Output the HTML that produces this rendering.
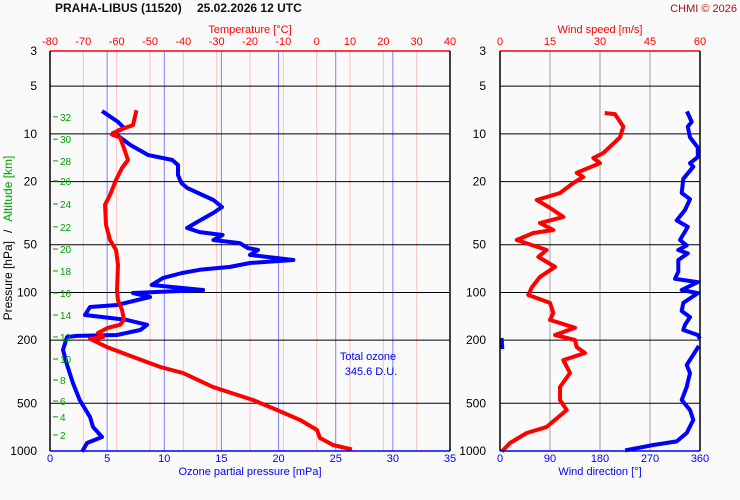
<!DOCTYPE html>
<html><head><meta charset="utf-8">
<style>
html,body{margin:0;padding:0;background:#fafafa;}
svg{display:block;font-family:"Liberation Sans",sans-serif;}
</style></head>
<body>
<svg id="chart" width="740" height="500" viewBox="0 0 740 500" xmlns="http://www.w3.org/2000/svg">
<rect x="0" y="0" width="740" height="500" fill="#fafafa"/>
<text x="55" y="12" font-size="12" font-weight="bold" fill="#111">PRAHA-LIBUS (11520)</text>
<text x="197" y="12" font-size="12" font-weight="bold" fill="#111">25.02.2026 12 UTC</text>
<text x="737" y="12" font-size="11" fill="#b01010" text-anchor="end">CHMI © 2026</text>
<g id="grid"></g>
<g id="series"></g>
<g id="axes"></g>
</svg>
<script>
// ---- data ----
const pressureTicks = [3, 5, 10, 20, 50, 100, 200, 500, 1000];
const tempTicks = [-80, -70, -60, -50, -40, -30, -20, -10, 0, 10, 20, 30, 40];
const ozoneTicks = [0, 5, 10, 15, 20, 25, 30, 35];
const speedTicks = [0, 15, 30, 45, 60];
const dirTicks = [0, 90, 180, 270, 360];
const altLabels = [32, 30, 28, 26, 24, 22, 20, 18, 16, 14, 12, 10, 8, 6, 4, 2];
const altPressure = [7.8, 10.8, 14.8, 19.8, 27.7, 38.6, 53.2, 73.2, 100.8, 138.7, 191, 263, 357, 484, 609, 792];

const tempP = [7.3, 8.8, 9.5, 10.1, 10.5, 12.3, 14.6, 16.4, 19.5, 24.3, 28, 37.5, 46.7, 54, 67, 96.5, 112, 129, 149, 160, 167, 180, 191, 196, 221, 255, 295, 322, 395, 477, 551, 637, 737, 828, 916, 971];
const tempV = [-54.2, -55.1, -59.6, -61.4, -59, -57.8, -56.6, -58.4, -60.2, -62, -63.5, -63.2, -62, -60.2, -59.6, -59.9, -59.6, -58.4, -57.8, -59, -62.6, -65.6, -64, -68, -62.9, -55.1, -47, -40.1, -31.1, -19.1, -11.9, -5, 0.1, 1, 4.9, 10];

const ozoneP = [7.3, 8.4, 9.2, 9.9, 10.2, 11.7, 13.6, 14.6, 15.7, 18.2, 20.4, 21.9, 26.1, 28.9, 31.5, 35.9, 39.2, 41.6, 43.4, 46.7, 48.8, 52.4, 54, 58, 62.4, 65.2, 69, 72, 75.4, 81, 89.8, 96.5, 100.8, 106.9, 120, 123.6, 138.7, 149, 160, 172.6, 185.5, 188, 191, 230, 287, 372, 477, 609, 705, 816, 890, 985];
const ozoneV = [4.7, 5.95, 6.5, 5.5, 5.9, 7.0, 8.6, 10.7, 11.2, 11.2, 11.5, 12.0, 14.3, 15.05, 14.3, 12.9, 12.0, 13.1, 15.1, 14.3, 16.6, 17.3, 18.2, 17.5, 21.3, 17.5, 15.75, 13.1, 11.55, 9.9, 8.9, 13.4, 7.26, 8.75, 5.86, 3.5, 3.06, 6.7, 8.5, 7.9, 5.86, 2.36, 1.49, 1.14, 1.5, 2.0, 2.6, 3.5, 3.76, 4.55, 3.24, 2.9];

const speedP = [7.4, 7.5, 9.0, 10.5, 12.6, 13.2, 14.2, 15.3, 17.6, 18.7, 20.4, 23.6, 26.1, 29.3, 33.4, 36.5, 40.4, 42.2, 46.7, 54, 59.7, 69, 79.8, 92.5, 103.8, 116.4, 134.7, 149, 167, 185.5, 199.5, 221, 241, 267, 322, 395, 477, 551, 705, 770, 890, 985];
const speedV = [32, 34.5, 37, 36, 32, 31, 28, 30, 23, 25, 22, 18, 11, 15, 19, 12, 16, 10, 5, 14, 11.5, 16.5, 12, 9.6, 8.5, 15, 16, 15, 22.5, 16.5, 22.5, 23, 25.5, 19, 21, 18, 18, 20, 14, 8, 3, 1];

const dirP = [7.4, 8.4, 9.0, 10.5, 12.2, 14.0, 15.3, 16.1, 19.2, 23.6, 25.8, 30.2, 35.1, 38.6, 46.7, 50.5, 54, 56.7, 62.4, 74, 82, 86, 96.5, 101, 116.4, 131, 143, 160, 172.6, 185.5, 191, 199.5, 221, 223, 287, 322, 395, 477, 551, 637, 770, 870, 916, 985];
const dirV = [338, 345, 338, 342, 356, 356, 342, 348, 330, 327, 342, 333, 318, 338, 324, 336, 321, 338, 321, 321, 315, 356, 327, 356, 330, 327, 342, 333, 330, 356, 358, 3, 4, 356, 336, 342, 336, 327, 342, 348, 336, 318, 276, 229];

// ---- scales ----
const PT = 51, PB = 451;
function yP(p){ return PT + (PB - PT) * Math.log10(p / 3) / Math.log10(1000 / 3); }
function xT(t){ return 50 + (t + 80) * 400 / 120; }
function xO(o){ return 50 + o * 400 / 35; }
function xS(s){ return 500 + s * 200 / 60; }
function xD(d){ return 500 + d * 200 / 360; }

const NS = "http://www.w3.org/2000/svg";
function mk(parent, tag, attrs, text){
  const e = document.createElementNS(NS, tag);
  for (const k in attrs) e.setAttribute(k, attrs[k]);
  if (text !== undefined) e.textContent = text;
  parent.appendChild(e);
  return e;
}
const grid = document.getElementById('grid');
const ser = document.getElementById('series');
const axes = document.getElementById('axes');

tempTicks.forEach(t => {
  if (t === -80 || t === 40) return;
  const l = mk(grid, 'line', {x1: xT(t), x2: xT(t), y1: PT, y2: PB, stroke: '#ffc0c0', 'stroke-width': 1});
  
  
});
ozoneTicks.forEach(o => {
  if (o === 0 || o === 35) return;
  const l = mk(grid, 'line', {x1: xO(o), x2: xO(o), y1: PT, y2: PB, stroke: '#8080ff', 'stroke-width': 1});
  
  
});
speedTicks.forEach(s => {
  if (s === 0 || s === 60) return;
  const l = mk(grid, 'line', {x1: xS(s), x2: xS(s), y1: PT, y2: PB, stroke: '#a0a0a0', 'stroke-width': 1});
  
  
});
pressureTicks.forEach(p => {
  if (p === 3 || p === 1000) return;
  [[50, 450], [500, 700]].forEach(r => {
    const l = mk(grid, 'line', {x1: r[0], x2: r[1], y1: yP(p), y2: yP(p), stroke: '#000', 'stroke-width': 1});
    
    
  });
});

function drawLine(ps, vs, xf, color, name, wrap){
  let segs = [[]];
  for (let i = 0; i < ps.length; i++){
    if (wrap && i > 0 && Math.abs(vs[i] - vs[i-1]) > 180) segs.push([]);
    segs[segs.length-1].push(xf(vs[i]).toFixed(1) + ',' + yP(ps[i]).toFixed(1));
  }
  segs.forEach(s => {
    const pl = mk(ser, 'polyline', {points: s.join(' '), fill: 'none', stroke: color, 'stroke-width': 4, 'stroke-linejoin': 'round', 'stroke-linecap': 'square'});
    
    
  });
}
drawLine(ozoneP, ozoneV, xO, '#0000ff', 'ozone-series', false);
drawLine(tempP, tempV, xT, '#ff0000', 'temperature-series', false);
drawLine(speedP, speedV, xS, '#ff0000', 'wind-speed-series', false);
drawLine(dirP, dirV, xD, '#0000ff', 'wind-direction-series', true);

function frame(x1, x2, name){
  const f = [
    [x1, PT, x2, PT, '#ff0000'], [x1, PB, x2, PB, '#0000ff'],
    [x1, PT, x1, PB, '#000'], [x2, PT, x2, PB, '#000']
  ];
  f.forEach(a => {
    const l = mk(axes, 'line', {x1: a[0], y1: a[1], x2: a[2], y2: a[3], stroke: a[4], 'stroke-width': 1.5});
    
    
  });
}
frame(50, 450, 'left-plot-frame');
frame(500, 700, 'right-plot-frame');

pressureTicks.forEach(p => {
  [37, 486].forEach(x => {
    const t = mk(axes, 'text', {x: x, y: yP(p) + 4, 'font-size': 12, 'text-anchor': 'end', fill: '#000'}, String(p));
    
    
  });
});
altLabels.forEach((a, i) => {
  const y = yP(altPressure[i]);
  const l = mk(axes, 'line', {x1: 53, x2: 58, y1: y, y2: y, stroke: '#00a000', 'stroke-width': 1});
  
  
  const t = mk(axes, 'text', {x: 60, y: y + 4, 'font-size': 10, fill: '#00a000'}, String(a));
  
  
});
tempTicks.forEach(v => {
  const t = mk(axes, 'text', {x: xT(v), y: 45, 'font-size': 11, 'text-anchor': 'middle', fill: '#ff0000'}, String(v));
  
  
});
ozoneTicks.forEach(v => {
  const t = mk(axes, 'text', {x: xO(v), y: 462, 'font-size': 11, 'text-anchor': 'middle', fill: '#0000ff'}, String(v));
  
  
});
speedTicks.forEach(v => {
  const t = mk(axes, 'text', {x: xS(v), y: 45, 'font-size': 11, 'text-anchor': 'middle', fill: '#ff0000'}, String(v));
  
  
});
dirTicks.forEach(v => {
  const t = mk(axes, 'text', {x: xD(v), y: 462, 'font-size': 11, 'text-anchor': 'middle', fill: '#0000ff'}, String(v));
  
  
});
</script>
<svg style="position:absolute;left:0;top:0" width="740" height="500" xmlns="http://www.w3.org/2000/svg">
<text x="250" y="33" font-family="Liberation Sans, sans-serif" font-size="11" fill="#ff0000" text-anchor="middle">Temperature [°C]</text>
<text x="250" y="475" font-family="Liberation Sans, sans-serif" font-size="11" fill="#0000ff" text-anchor="middle">Ozone partial pressure [mPa]</text>
<text x="600" y="33" font-family="Liberation Sans, sans-serif" font-size="11" fill="#ff0000" text-anchor="middle">Wind speed [m/s]</text>
<text x="600" y="475" font-family="Liberation Sans, sans-serif" font-size="11" fill="#0000ff" text-anchor="middle">Wind direction [°]</text>
<text transform="translate(12,238) rotate(-90)" font-family="Liberation Sans, sans-serif" font-size="12" text-anchor="middle"><tspan fill="#000">Pressure [hPa]</tspan><tspan fill="#000" dx="8">/</tspan><tspan fill="#00a000" dx="8">Altitude [km]</tspan></text>
<text x="368" y="360" font-family="Liberation Sans, sans-serif" font-size="11" fill="#0000ff" text-anchor="middle">Total ozone</text>
<text x="371" y="375" font-family="Liberation Sans, sans-serif" font-size="11" fill="#0000ff" text-anchor="middle">345.6 D.U.</text>
</svg>
</body></html>
